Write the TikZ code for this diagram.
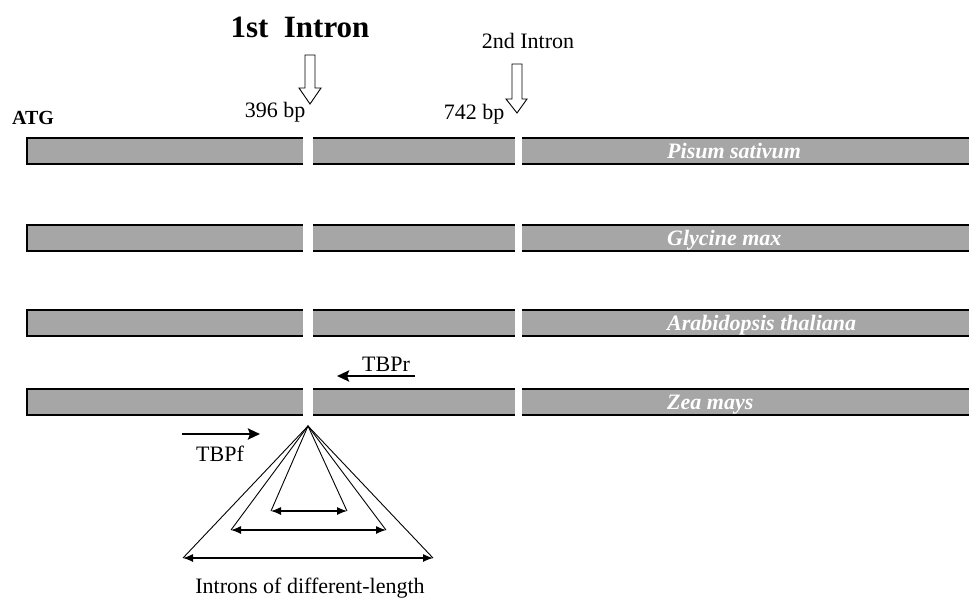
\documentclass[tikz,border=0pt]{standalone}
\usepackage{fontspec}
\setmainfont{Liberation Serif}
\usetikzlibrary{arrows.meta}
\usetikzlibrary{positioning}
\definecolor{bargray}{rgb}{0.65,0.65,0.65}

\tikzset{
  txt/.style={font=\fontsize{22}{26}\selectfont, inner sep=0pt},
  species/.style={font=\fontsize{22}{26}\selectfont\bfseries\itshape, text=white, anchor=base west, inner sep=0pt},
  primer/.style={line width=2.6pt, -{Stealth[length=12pt, width=11pt, inset=2pt]}},
  span/.style={line width=1.2pt, {Latex[length=10pt, width=8pt]}-{Latex[length=10pt, width=8pt]}},
  openarrow/.style={draw=black, fill=white, line width=0.9pt}
}

\begin{document}
\begin{tikzpicture}[x=1pt,y=-1pt,line join=miter]
\useasboundingbox (0,0) rectangle (969,600);
\clip (0,0) rectangle (969,600);

% gene bars with the two intron gaps
\foreach \yt/\name in {138/Pisum sativum, 225/Glycine max, 310/Arabidopsis thaliana, 389/Zea mays}{
  \fill[bargray] (27,\yt) rectangle (980,\yt+26);
  \draw[line width=1.4pt] (980,\yt) -- (27,\yt) -- (27,\yt+26) -- (980,\yt+26);
  \fill[white] (303,\yt-2) rectangle (313,\yt+28);
  \fill[white] (515,\yt-2) rectangle (522,\yt+28);
  \node[species] (sp\yt) at (667,\yt+20) {\name};
}

% intron positions
\node[font=\fontsize{31}{36}\selectfont\bfseries, inner sep=0pt, anchor=base] (intron1) at (300,37) {1st\ \ Intron};
\node[txt, anchor=base] (intron2) at (528,48) {2nd Intron};
\draw[openarrow] (305,55) -- (315,55) -- (315,88) -- (321,88) -- (310,104) -- (299,88) -- (305,88) -- cycle;
\draw[openarrow] (512,64) -- (522,64) -- (522,99) -- (527,99) -- (517,113) -- (506,99) -- (512,99) -- cycle;
\node[txt, anchor=base] (bp396) at (275,117) {396 bp};
\node[txt, anchor=base] (bp742) at (474,119) {742 bp};
\node[font=\fontsize{20}{24}\selectfont\bfseries, inner sep=0pt, anchor=base] (atg) at (33,124) {ATG};

% primers
\coordinate (rstart) at (415,376);
\coordinate (rend) at (337,376);
\draw[primer] (rstart) -- (rend);
\node[txt, anchor=base] (tbpr) at (386,371) {TBPr};
\coordinate (fstart) at (182,434);
\coordinate (fend) at (260,434);
\draw[primer] (fstart) -- (fend);
\node[txt, anchor=base] (tbpf) at (220,461) {TBPf};

% introns of different length
\coordinate (apex) at (308,426);
\coordinate (s1l) at (271,511);
\coordinate (s1r) at (347,511);
\coordinate (s2l) at (231,530);
\coordinate (s2r) at (386,530);
\coordinate (s3l) at (183,558);
\coordinate (s3r) at (433,558);
\foreach \s in {1,2,3}{
  \draw[line width=0.9pt] (s\s l) -- (apex) -- (s\s r);
  \draw[span] (s\s l) -- (s\s r);
}
\node[txt, anchor=base] (caption) at (310,593) {Introns of different-length};
\end{tikzpicture}
\end{document}
